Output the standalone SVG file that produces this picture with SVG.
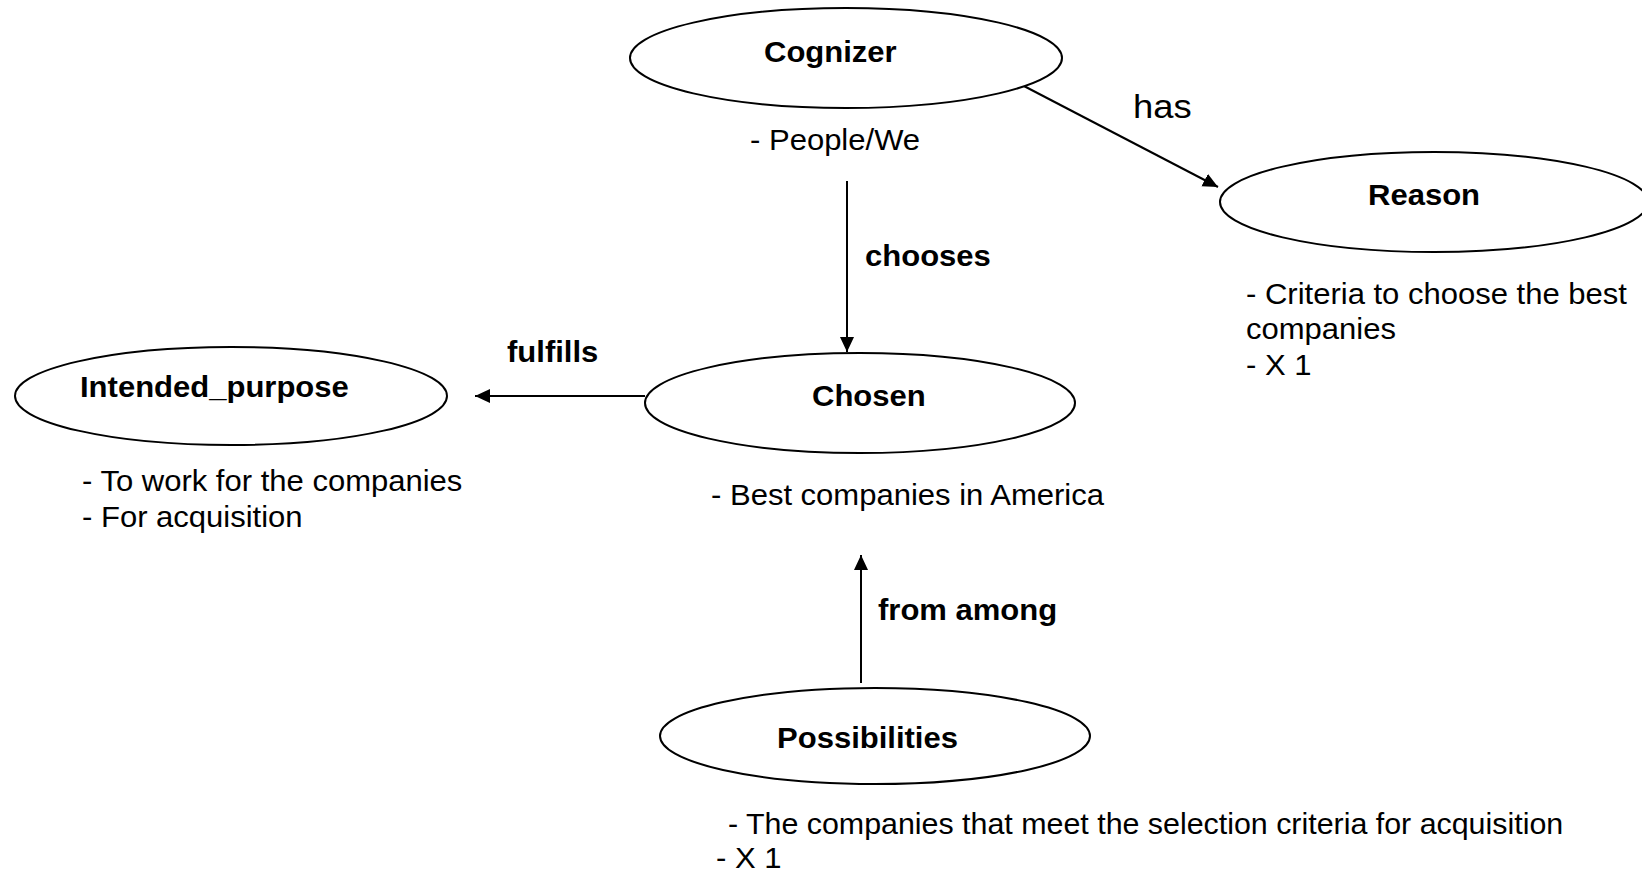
<svg xmlns="http://www.w3.org/2000/svg" width="1642" height="876" viewBox="0 0 1642 876">
<style>
.node{fill:#fff;stroke:#000;stroke-width:2}
.edge{stroke:#000;stroke-width:2;fill:none}
text{font-family:"Liberation Sans",Arial,sans-serif;font-size:29px;fill:#000}
.b{font-weight:bold}
.big{font-size:34px}
</style>
<defs>
<marker id="arr" markerUnits="userSpaceOnUse" markerWidth="16" markerHeight="15" refX="15" refY="7" orient="auto">
<path d="M0,0 L15,7 L0,14 z" fill="#000"/>
</marker>
</defs>
<rect width="1642" height="876" fill="#fff"/>
<g id="connectors">
<line class="edge" x1="847" y1="181" x2="847" y2="352" marker-end="url(#arr)"/>
<text class="b" transform="translate(865 266) scale(1.07 1)">chooses</text>
<line class="edge" x1="1022" y1="85" x2="1218" y2="187" marker-end="url(#arr)"/>
<text class="big" transform="translate(1133 118) scale(1.07 1)">has</text>
<line class="edge" x1="645" y1="396" x2="475" y2="396" marker-end="url(#arr)"/>
<text class="b" transform="translate(507 362) scale(1.07 1)">fulfills</text>
<line class="edge" x1="861" y1="683" x2="861" y2="555" marker-end="url(#arr)"/>
<text class="b" transform="translate(878 620) scale(1.07 1)">from among</text>
</g>
<g id="cognizer">
<ellipse class="node" cx="846" cy="58" rx="216" ry="50"/>
<text class="b" transform="translate(764 62) scale(1.07 1)">Cognizer</text>
<text transform="translate(750 150) scale(1.07 1)">- People/We</text>
</g>
<g id="reason">
<ellipse class="node" cx="1434" cy="202" rx="214" ry="50"/>
<text class="b" transform="translate(1368 205) scale(1.07 1)">Reason</text>
<text transform="translate(1246 304) scale(1.07 1)">- Criteria to choose the best</text>
<text transform="translate(1246 339) scale(1.07 1)">companies</text>
<text transform="translate(1246 375) scale(1.07 1)">- X 1</text>
</g>
<g id="chosen">
<ellipse class="node" cx="860" cy="403" rx="215" ry="50"/>
<text class="b" transform="translate(812 406) scale(1.07 1)">Chosen</text>
<text transform="translate(711 505) scale(1.07 1)">- Best companies in America</text>
</g>
<g id="intended_purpose">
<ellipse class="node" cx="231" cy="396" rx="216" ry="49"/>
<text class="b" transform="translate(80 397) scale(1.07 1)">Intended_purpose</text>
<text transform="translate(82 491) scale(1.07 1)">- To work for the companies</text>
<text transform="translate(82 527) scale(1.07 1)">- For acquisition</text>
</g>
<g id="possibilities">
<ellipse class="node" cx="875" cy="736" rx="215" ry="48"/>
<text class="b" transform="translate(777 748) scale(1.07 1)">Possibilities</text>
<text transform="translate(728 834) scale(1.048 1)">- The companies that meet the selection criteria for acquisition</text>
<text transform="translate(716 868) scale(1.07 1)">- X 1</text>
</g>
</svg>
